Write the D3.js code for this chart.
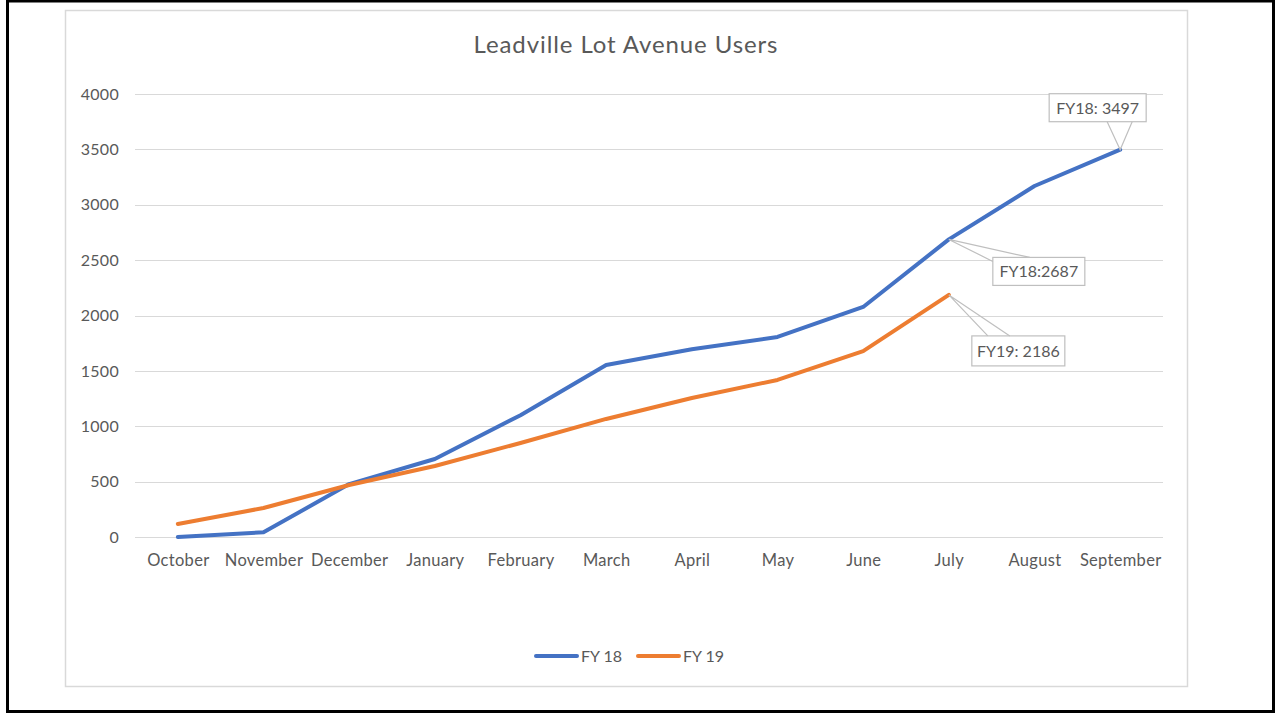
<!DOCTYPE html>
<html><head><meta charset="utf-8">
<script src="https://cdn.jsdelivr.net/npm/d3@7"></script>
<style>
html,body{margin:0;padding:0;background:#fff;}
svg{display:block;font-family:Lato,"Open Sans",sans-serif;}
</style></head><body>
<svg id="c" width="1276" height="713"></svg>
<script>
const months = ["October","November","December","January","February","March","April","May","June","July","August","September"];
const fy18 = [0, 42, 478, 704, 1100, 1553, 1695, 1806, 2077, 2687, 3169, 3497];
const fy19 = [118, 262, 470, 641, 849, 1066, 1255, 1418, 1679, 2186];
const yTicks = [0,500,1000,1500,2000,2500,3000,3500,4000];
const seriesNames = ["FY 18","FY 19"];
const colors = ["#4472C4","#ED7D31"];
const callouts = [
  {series:0, idx:11, text:"FY18: 3497"},
  {series:0, idx:9, text:"FY18:2687"},
  {series:1, idx:9, text:"FY19: 2186"}
];

const svg = d3.select("#c");
svg.append("rect").attr("x",7.5).attr("y",1).attr("width",1266).attr("height",710.5)
  .attr("fill","none").attr("stroke","#000").attr("stroke-width",3);
svg.append("rect").attr("x",65.5).attr("y",10.5).attr("width",1122).attr("height",676)
  .attr("fill","#fff").attr("stroke","#d9d9d9").attr("stroke-width",1.5);

const x = d3.scalePoint().domain(months).range([135,1163]).padding(0.5);
const y = d3.scaleLinear().domain([0,4000]).range([537,94]);

svg.append("text").attr("x",626).attr("y",53).attr("text-anchor","middle")
  .attr("font-size",24).attr("letter-spacing",0.9).attr("fill","#595959").text("Leadville Lot Avenue Users");

svg.append("g").selectAll("line").data(yTicks).join("line")
  .attr("x1",135).attr("x2",1163).attr("y1",d=>Math.round(y(d))+0.5).attr("y2",d=>Math.round(y(d))+0.5)
  .attr("stroke","#d9d9d9").attr("stroke-width",1);

const yAxis = svg.append("g").attr("transform","translate(135,0)")
  .call(d3.axisLeft(y).tickValues(yTicks).tickFormat(d3.format("d")).tickSize(0).tickPadding(16));
yAxis.select(".domain").remove();
yAxis.selectAll("text").attr("font-size",16).attr("letter-spacing",0.3).attr("fill","#595959").attr("font-family","Lato,'Open Sans',sans-serif");

const xAxis = svg.append("g").attr("transform","translate(0,537)")
  .call(d3.axisBottom(x).tickSize(0).tickPadding(17));
xAxis.select(".domain").remove();
xAxis.selectAll("text").attr("font-size",16.5).attr("letter-spacing",0.3).attr("fill","#595959").attr("font-family","Lato,'Open Sans',sans-serif");

const line = d3.line().x((d,i)=>x(months[i])).y(d=>y(d));
[fy18,fy19].forEach((s,k)=>{
  svg.append("path").datum(s).attr("d",line).attr("fill","none")
    .attr("stroke",colors[k]).attr("stroke-width",4).attr("stroke-linejoin","round").attr("stroke-linecap","round");
});

const series = [fy18,fy19];
const shapes = [
  {bx:-71, by:-56, bw:97, bh:28, w:[[ -13,-28],[12,-28]]},
  {bx:44, by:18, bw:92, bh:28, w:[[81,18],[44,22]]},
  {bx:23, by:41, bw:93, bh:30, w:[[39,41],[61,41]]}
];
callouts.forEach((c,i)=>{
  const px = x(months[c.idx]), py = y(series[c.series][c.idx]);
  const s = shapes[i];
  const g = svg.append("g");
  g.append("rect").attr("x",px+s.bx).attr("y",py+s.by).attr("width",s.bw).attr("height",s.bh)
    .attr("fill","#fff").attr("stroke","#bfbfbf").attr("stroke-width",1.2);
  g.append("path").attr("d",`M${px+s.w[0][0]},${py+s.w[0][1]}L${px},${py}L${px+s.w[1][0]},${py+s.w[1][1]}`)
    .attr("fill","none").attr("stroke","#bfbfbf").attr("stroke-width",1.2);
  g.append("text").attr("x",px+s.bx+s.bw/2).attr("y",py+s.by+s.bh/2+6).attr("text-anchor","middle")
    .attr("font-size",16).attr("fill","#595959").text(c.text);
});

const lg = [{x:534,tx:581},{x:636,tx:683}];
seriesNames.forEach((n,k)=>{
  svg.append("line").attr("x1",lg[k].x+2).attr("x2",lg[k].x+43).attr("y1",656).attr("y2",656)
    .attr("stroke",colors[k]).attr("stroke-width",4).attr("stroke-linecap","round");
  svg.append("text").attr("x",lg[k].tx).attr("y",662).attr("font-size",16).attr("fill","#595959").text(n);
});
</script>
</body></html>
